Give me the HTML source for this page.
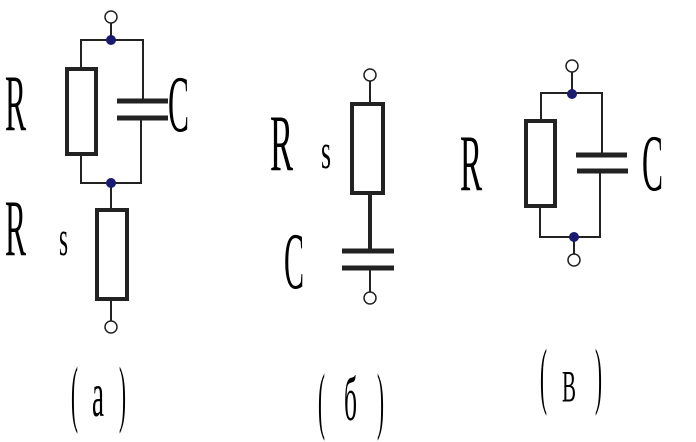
<!DOCTYPE html>
<html><head><meta charset="utf-8"><style>
html,body{margin:0;padding:0;background:#fff;}
svg{display:block;}
text{font-family:"Liberation Serif",serif;fill:#000;}
</style></head><body>
<svg width="696" height="442" viewBox="0 0 696 442" xmlns="http://www.w3.org/2000/svg">
<g stroke="#222" fill="none">
<line x1="111" y1="23" x2="111" y2="40" stroke-width="2"/>
<polyline points="81,67 81,40 143,40 143,99" stroke-width="2"/>
<polyline points="81,155 81,183 141,183 141,119" stroke-width="2"/>
<rect x="67" y="69" width="29" height="85" stroke-width="4"/>
<line x1="117" y1="101" x2="168" y2="101" stroke-width="5"/>
<line x1="117" y1="118" x2="168" y2="118" stroke-width="5"/>
<line x1="111" y1="183" x2="111" y2="209" stroke-width="2"/>
<rect x="97" y="210" width="30" height="89" stroke-width="4"/>
<line x1="111" y1="300" x2="111" y2="321" stroke-width="2"/>
<circle cx="111" cy="17" r="6" fill="#fff" stroke-width="1.5"/>
<circle cx="111" cy="327" r="6" fill="#fff" stroke-width="1.5"/>
<line x1="370" y1="81" x2="370" y2="102" stroke-width="2"/>
<rect x="352" y="104" width="31" height="89" stroke-width="4"/>
<line x1="370" y1="195" x2="370" y2="251" stroke-width="4"/>
<line x1="342" y1="251" x2="394" y2="251" stroke-width="5"/>
<line x1="342" y1="268" x2="394" y2="268" stroke-width="5"/>
<line x1="370" y1="268" x2="370" y2="292" stroke-width="2"/>
<circle cx="370" cy="75" r="6" fill="#fff" stroke-width="1.5"/>
<circle cx="370" cy="298" r="6" fill="#fff" stroke-width="1.5"/>
<line x1="572" y1="72" x2="572" y2="93" stroke-width="2"/>
<polyline points="541,119 541,93 602,93 602,153" stroke-width="2"/>
<polyline points="540,207 540,237 600,237 600,172" stroke-width="2"/>
<rect x="526" y="121" width="29" height="85" stroke-width="4"/>
<line x1="576" y1="155" x2="627" y2="155" stroke-width="5"/>
<line x1="577" y1="171" x2="628" y2="171" stroke-width="5"/>
<line x1="574" y1="237" x2="574" y2="254" stroke-width="2"/>
<circle cx="572" cy="66" r="6" fill="#fff" stroke-width="1.5"/>
<circle cx="574" cy="260" r="6" fill="#fff" stroke-width="1.5"/>
</g>
<g fill="#1a1a70">
<circle cx="111" cy="40" r="5"/>
<circle cx="111" cy="183" r="5"/>
<circle cx="572" cy="94" r="5"/>
<circle cx="574" cy="237" r="5"/>
</g>
<g font-size="80">
<text x="5" y="130" textLength="21" lengthAdjust="spacingAndGlyphs">R</text>
<text x="168" y="131" textLength="21" lengthAdjust="spacingAndGlyphs">C</text>
<text x="5" y="255" textLength="21" lengthAdjust="spacingAndGlyphs">R</text>
<text x="270" y="170" textLength="23" lengthAdjust="spacingAndGlyphs">R</text>
<text x="284" y="288" textLength="20" lengthAdjust="spacingAndGlyphs">C</text>
<text x="460" y="190" textLength="22" lengthAdjust="spacingAndGlyphs">R</text>
<text x="642" y="190" textLength="21" lengthAdjust="spacingAndGlyphs">C</text>
</g>
<g font-size="50">
<text x="59" y="255" textLength="9" lengthAdjust="spacingAndGlyphs">s</text>
<text x="321" y="168" textLength="10" lengthAdjust="spacingAndGlyphs">s</text>
</g>
<g font-size="74">
<text x="71" y="418" textLength="7" lengthAdjust="spacingAndGlyphs">(</text>
<text x="92" y="416" font-size="64" textLength="12" lengthAdjust="spacingAndGlyphs">a</text>
<text x="119" y="418" textLength="7" lengthAdjust="spacingAndGlyphs">)</text>
<text x="318" y="425" textLength="7" lengthAdjust="spacingAndGlyphs">(</text>
<text x="344" y="420" font-size="62" textLength="13" lengthAdjust="spacingAndGlyphs">б</text>
<text x="377" y="425" textLength="7" lengthAdjust="spacingAndGlyphs">)</text>
<text x="540" y="400" textLength="7" lengthAdjust="spacingAndGlyphs">(</text>
<text x="562" y="401" font-size="44" textLength="14" lengthAdjust="spacingAndGlyphs">B</text>
<text x="595" y="400" textLength="7" lengthAdjust="spacingAndGlyphs">)</text>
</g>
</svg>
</body></html>
